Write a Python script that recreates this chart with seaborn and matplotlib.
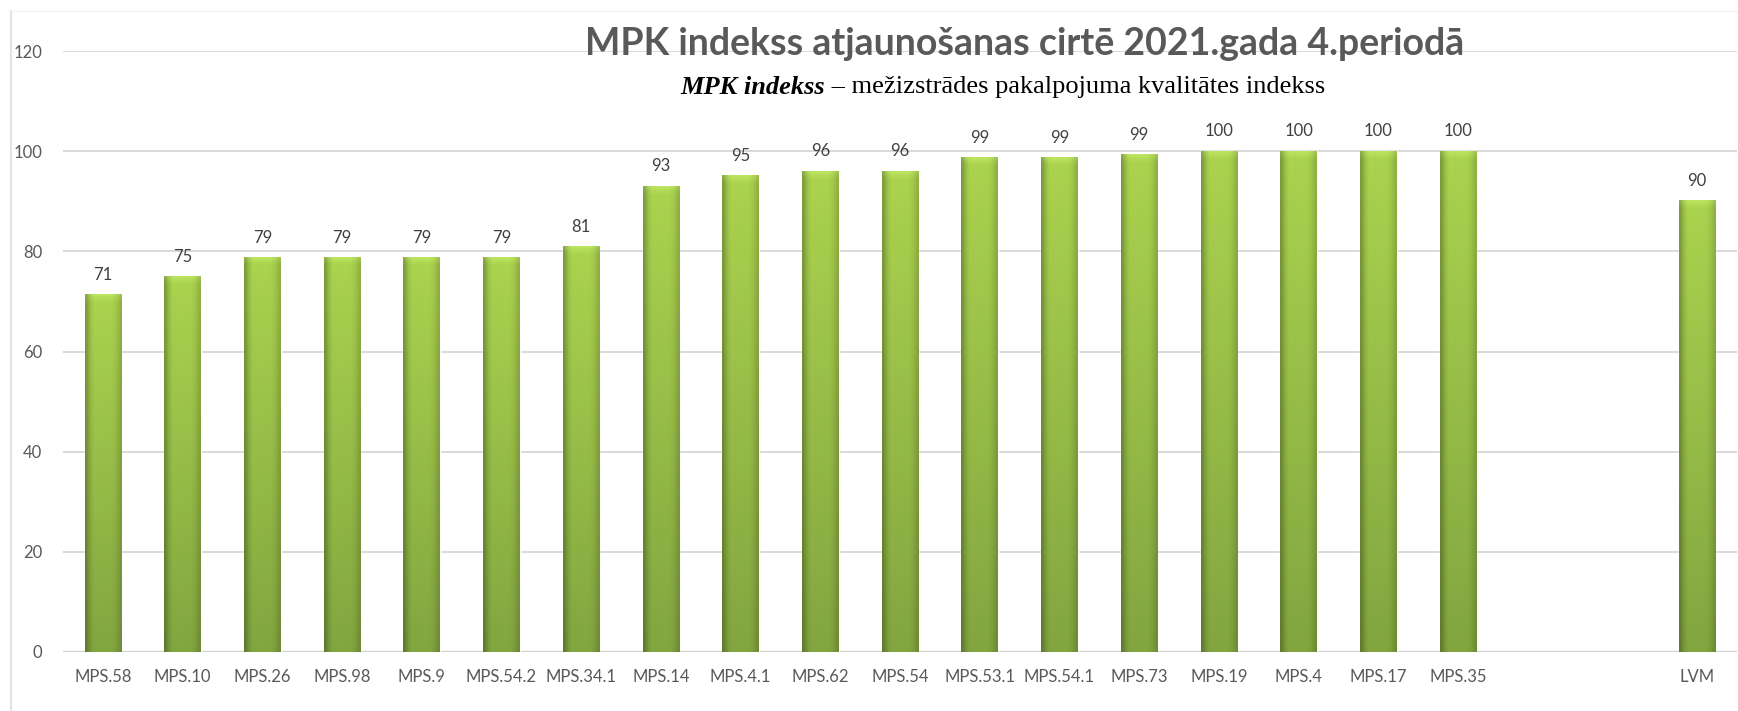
import numpy as np
import pandas as pd
import matplotlib
matplotlib.use("Agg")
import matplotlib.pyplot as plt
import seaborn as sns
from matplotlib.lines import Line2D

categories = ["MPS.58", "MPS.10", "MPS.26", "MPS.98", "MPS.9", "MPS.54.2", "MPS.34.1",
              "MPS.14", "MPS.4.1", "MPS.62", "MPS.54", "MPS.53.1", "MPS.54.1", "MPS.73",
              "MPS.19", "MPS.4", "MPS.17", "MPS.35", "LVM"]
values = [71.4, 74.9, 78.8, 78.8, 78.8, 78.8, 80.9,
          93.0, 95.1, 96.0, 96.0, 98.7, 98.7, 99.3,
          100, 100, 100, 100, 90.1]
axis_order = categories[:18] + [" ", "  "] + ["LVM"]
yticks = [0, 20, 40, 60, 80, 100, 120]

title = "MPK indekss atjaunošanas cirtē 2021.gada 4.periodā"
subtitle_bold = "MPK indekss"
subtitle_rest = " – mežizstrādes pakalpojuma kvalitātes indekss"

sns.set_theme(style="white")
plt.rcParams["font.family"] = ["Lato", "DejaVu Sans"]

W, H = 1738, 711
fig = plt.figure(figsize=(W / 100, H / 100), dpi=100)
ax = fig.add_axes([63 / W, 1 - 652 / H, (1737 - 63) / W, (652 - 51) / H])

df = pd.DataFrame({"cat": categories, "val": values})
sns.barplot(data=df, x="cat", y="val", order=axis_order, color="#94c042",
            width=0.46, ax=ax, zorder=3)

ax.set_ylim(0, 120)
ax.set_xlim(-0.5, len(axis_order) - 0.5)
ax.set_yticks(yticks)
ax.set_xlabel("")
ax.set_ylabel("")
ax.grid(axis="y", color="#d9d9d9", linewidth=1.4, zorder=0)
ax.grid(axis="x", visible=False)
for s in ax.spines.values():
    s.set_visible(False)
ax.axhline(0, color="#d0d0d0", linewidth=1.6, zorder=1)
ax.tick_params(axis="both", length=0, labelsize=12, colors="#595959")
ax.tick_params(axis="y", pad=15)
ax.tick_params(axis="x", pad=12)

# gradient fill on bars
h_prof = np.array([0.74, 0.86, 0.95, 1.0, 1.0, 1.0, 1.0, 1.0, 1.0, 1.0, 0.99, 0.96, 0.91, 0.84])
top_c = np.array([0.67, 0.83, 0.31])
bot_c = np.array([0.51, 0.65, 0.25])
for p in ax.patches:
    hgt = p.get_height()
    if np.isnan(hgt) or hgt <= 0:
        continue
    x0, w = p.get_x(), p.get_width()
    ny = 400
    t = np.linspace(0, 1, ny)[:, None]  # 0 top -> 1 bottom
    col = top_c[None, :] * (1 - t) + bot_c[None, :] * t
    img = col[:, None, :] * h_prof[None, :, None]
    # soft top bevel highlight
    bevel_units = 1.8
    dist = (t[:, 0] * hgt) / bevel_units
    boost = np.clip(1 - dist, 0, 1) ** 1.5
    img = np.clip(img + boost[:, None, None] * 0.07, 0, 1)
    ax.imshow(img, extent=(x0, x0 + w, 0, hgt), aspect="auto", zorder=3.5,
              interpolation="bilinear")
    p.set_facecolor("none")
    ax.annotate(f"{hgt:.0f}", (x0 + w / 2, hgt), xytext=(0, 8.5), textcoords="offset points",
                ha="center", va="bottom", fontsize=12, color="#404040", zorder=5)

ax.set_xlim(-0.5, len(axis_order) - 0.5)
ax.set_ylim(0, 120)

fig.text(1025 / W, 1 - 44 / H, title, ha="center", va="center", fontsize=27,
         fontweight="bold", color="#595959", zorder=10)

t1 = fig.text(0, 1 - 87 / H, subtitle_bold, ha="left", va="center", fontsize=19,
              fontweight="bold", fontstyle="italic", family=["Liberation Serif"], color="black")
t2 = fig.text(0, 1 - 87 / H, subtitle_rest, ha="left", va="center", fontsize=19,
              family=["Liberation Serif"], color="black")
fig.canvas.draw()
r = fig.canvas.get_renderer()
w1 = t1.get_window_extent(r).width
w2 = t2.get_window_extent(r).width
cx = 1003
start = cx - (w1 + w2) / 2
t1.set_x(start / W)
t2.set_x((start + w1) / W)

# chart frame lines
fig.add_artist(Line2D([11 / W, 11 / W], [0, 1 - 11 / H], color="#e3e3e3", linewidth=1.5))
fig.add_artist(Line2D([11 / W, 1], [1 - 11 / H, 1 - 11 / H], color="#f2f2f2", linewidth=1.0))

fig.savefig("out.png", dpi=100)
